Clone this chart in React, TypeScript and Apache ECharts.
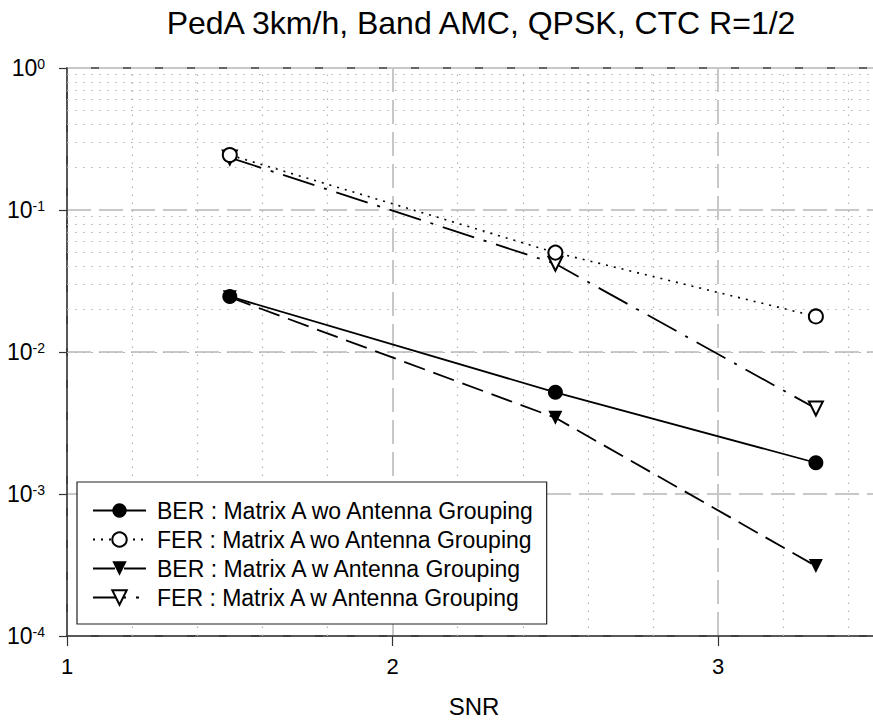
import React, { useEffect, useRef } from "react";
import * as echarts from "echarts";

const snr = [1.5, 2.5, 3.3];
const berWo = [0.0246, 0.0052, 0.00166];
const ferWo = [0.244, 0.0501, 0.0178];
const berW = [0.0243, 0.00344, 0.000311];
const ferW = [0.234, 0.0418, 0.004];

const seriesNames = [
  "BER : Matrix A wo Antenna Grouping",
  "FER : Matrix A wo Antenna Grouping",
  "BER : Matrix A w Antenna Grouping",
  "FER : Matrix A w Antenna Grouping",
];

const xMinor = [1.2, 1.4, 1.6, 1.8, 2.2, 2.4, 2.6, 2.8, 3.2, 3.4];
const yDecades = [1e-4, 1e-3, 1e-2, 1e-1];
const yMultipliers = [2, 3, 4, 5, 6, 7, 8, 9];

const FONT = "Liberation Sans, Arial, sans-serif";

export default function App() {
  const ref = useRef<HTMLDivElement>(null);
  useEffect(() => {
    if (!ref.current) return;
    const chart = echarts.init(ref.current, null, { renderer: "svg" });
    const pts = (ys: number[]) => snr.map((x, i) => [x, ys[i]]);
    const yMinor: number[] = [];
    yDecades.forEach((d) => yMultipliers.forEach((m) => yMinor.push(+(d * m).toPrecision(3))));
    const dotted = { color: "#b4b4b4", width: 1.2, type: [1.5, 6.5] as any };
    const major = { color: "#c8c8c8", width: 2, type: [24, 8] as any };

    chart.setOption({
      animation: false,
      textStyle: { fontFamily: FONT },
      title: {
        text: "PedA 3km/h, Band AMC, QPSK, CTC R=1/2",
        left: 476,
        top: 2,
        textAlign: "center",
        textStyle: { fontFamily: FONT, fontSize: 32, fontWeight: "normal", color: "#000" },
      },
      grid: {
        left: 67,
        top: 68,
        bottom: 92,
        right: 0,
        outerBoundsMode: "none",
        containLabel: false,
        show: true,
        borderColor: "#333",
        borderWidth: 1.5,
        backgroundColor: "transparent",
      },
      legend: {
        data: seriesNames,
        orient: "vertical",
        left: 77,
        top: 482,
        padding: [17, 10, 15, 15],
        itemGap: 6,
        itemWidth: 53,
        itemHeight: 18,
        backgroundColor: "#fff",
        borderColor: "#222",
        borderWidth: 1.2,
        borderRadius: 0,
        textStyle: { fontFamily: FONT, fontSize: 23, color: "#000", padding: [0, 0, 0, 6] },
      },
      xAxis: {
        type: "value",
        min: 1,
        max: 3.5,
        interval: 1,
        name: "SNR",
        nameLocation: "middle",
        nameGap: 58,
        nameTextStyle: { fontFamily: FONT, fontSize: 24, color: "#000" },
        axisLine: { lineStyle: { color: "#333", width: 1.5 } },
        axisTick: { show: true, length: 10, lineStyle: { color: "#333", width: 1.2 } },
        axisLabel: {
          margin: 19,
          fontFamily: FONT,
          fontSize: 22,
          color: "#000",
          formatter: (v: number) => (Number.isInteger(v) ? String(v) : ""),
        },
        splitLine: { show: true, lineStyle: major },
      },
      yAxis: {
        type: "log",
        logBase: 10,
        min: 1e-4,
        max: 1,
        axisLine: { show: true, onZero: false, lineStyle: { color: "#333", width: 1.5 } },
        axisTick: { show: true, length: 8, lineStyle: { color: "#333", width: 1.2 } },
        axisLabel: {
          margin: 22,
          color: "#000",
          formatter: (v: number) => `{b|10}{s|${Math.round(Math.log10(v))}}`,
          rich: {
            b: { fontFamily: FONT, fontSize: 23, color: "#000" },
            s: { fontFamily: FONT, fontSize: 14, color: "#000", verticalAlign: "top", padding: [0, 0, 9, 0] },
          },
        },
        splitLine: { show: true, lineStyle: major },
      },
      series: [
        {
          name: "grid",
          type: "line",
          data: [[1.5, 0.1]],
          symbol: "none",
          lineStyle: { opacity: 0 },
          silent: true,
          z: 1,
          markLine: {
            silent: true,
            z: 1,
            symbol: ["none", "none"],
            label: { show: false },
            lineStyle: dotted,
            emphasis: { disabled: true },
            data: [
              ...xMinor.map((v) => ({ xAxis: v })),
              ...yMinor.map((v) => ({ yAxis: v })),
            ],
          },
        },
        {
          name: seriesNames[0],
          type: "line",
          data: pts(berWo),
          symbol: "circle",
          symbolSize: 15,
          itemStyle: { color: "#000" },
          lineStyle: { color: "#000", width: 1.8, type: "solid" },
          z: 5,
        },
        {
          name: seriesNames[1],
          type: "line",
          data: pts(ferWo),
          symbol: "emptyCircle",
          symbolSize: 14,
          itemStyle: { color: "#000", borderWidth: 1.6 },
          lineStyle: { color: "#000", width: 1.6, type: [2, 6] },
          z: 4,
        },
        {
          name: seriesNames[2],
          type: "line",
          data: pts(berW),
          symbol: "triangle",
          symbolRotate: 180,
          symbolSize: 14,
          itemStyle: { color: "#000" },
          lineStyle: { color: "#000", width: 1.8, type: [22, 9] },
          z: 3,
        },
        {
          name: seriesNames[3],
          type: "line",
          data: pts(ferW),
          symbol: "emptyTriangle",
          symbolRotate: 180,
          symbolSize: 14,
          itemStyle: { color: "#000", borderWidth: 1.6 },
          lineStyle: { color: "#000", width: 1.8, type: [33, 10, 3, 10] },
          z: 3,
        },
      ],
    });
    return () => chart.dispose();
  }, []);
  return (
    <div style={{ position: "fixed", left: 0, top: 0, width: 873, height: 728, overflow: "hidden", background: "#fff" }}>
      <div ref={ref} style={{ width: 881, height: 728 }} />
    </div>
  );
}
